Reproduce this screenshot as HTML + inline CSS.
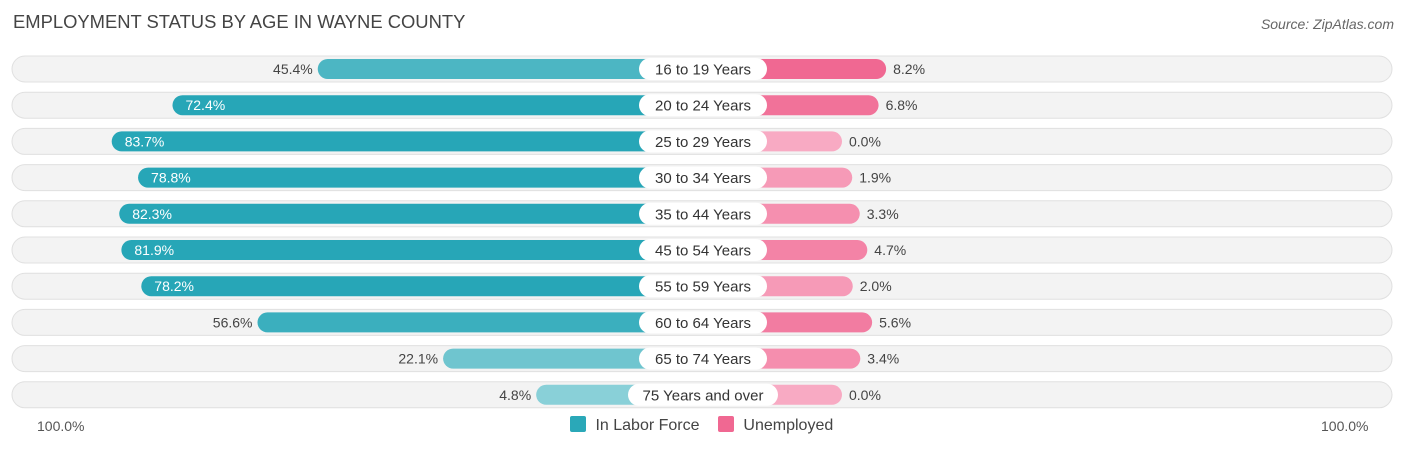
<!DOCTYPE html>
<html><head><meta charset="utf-8"><style>
body{margin:0;background:#fff;font-family:"Liberation Sans",sans-serif;}
#wrap{position:relative;width:1406px;height:451px;overflow:hidden;}
.t{position:absolute;white-space:nowrap;}
</style></head><body>
<div id="wrap">
<div class="t" style="left:13px;top:11px;font-size:18.4px;color:#444;">EMPLOYMENT STATUS BY AGE IN WAYNE COUNTY</div>
<div class="t" style="right:12px;top:16px;font-size:14px;color:#666;font-style:italic;">Source: ZipAtlas.com</div>
<svg id="svg" width="1406" height="451" style="position:absolute;left:0;top:0"></svg>
<div class="t" style="left:37px;top:418px;font-size:14px;color:#555;">100.0%</div>
<div class="t" style="left:1321px;top:418px;font-size:14px;color:#555;">100.0%</div>
<div style="position:absolute;left:570px;top:416px;font-size:16px;color:#444;">
<span style="display:inline-block;width:16px;height:16px;background:#2aa8b8;border-radius:2px;vertical-align:-2px"></span>
<span style="margin:0 14px 0 5px">In Labor Force</span>
<span style="display:inline-block;width:16px;height:16px;background:#f06892;border-radius:2px;vertical-align:-2px"></span>
<span style="margin-left:5px">Unemployed</span>
</div>
</div>
<script>
const categories=["16 to 19 Years","20 to 24 Years","25 to 29 Years","30 to 34 Years","35 to 44 Years","45 to 54 Years","55 to 59 Years","60 to 64 Years","65 to 74 Years","75 Years and over"];
const laborForce=[45.4,72.4,83.7,78.8,82.3,81.9,78.2,56.6,22.1,4.8];
const unemployed=[8.2,6.8,0.0,1.9,3.3,4.7,2.0,5.6,3.4,0.0];
const NS="http://www.w3.org/2000/svg";
const svg=document.getElementById('svg');
const CX=702,LO=562,RO=842,SC=5.38,Y0=69,STEP=36.2;
function xl(v){return LO-v*SC;}
function xr(v){return RO+v*SC;}
function lerp(a,b,t){t=Math.max(0,Math.min(1,t));return a.map((c,i)=>Math.round(c+(b[i]-c)*t));}
function rgb(c){return `rgb(${c[0]},${c[1]},${c[2]})`;}
function mk(tag,attrs){const e=document.createElementNS(NS,tag);for(const k in attrs)e.setAttribute(k,attrs[k]);svg.appendChild(e);return e;}
categories.forEach((cat,i)=>{
  const y=Y0+i*STEP;
  const bg=mk('rect',{x:12,y:y-13,width:1380,height:26,rx:13,fill:'#f3f3f3',stroke:'#e0e0e0','stroke-width':1});
  
  
  const lv=laborForce[i];
  const lc=rgb(lerp([144,211,218],[39,166,183],lv/70));
  const lb=mk('rect',{x:xl(lv),y:y-10,width:CX-xl(lv),height:20,rx:10,fill:lc});
  
  
  const uv=unemployed[i];
  const uc=rgb(lerp([248,170,195],[240,104,146],uv/8));
  const ub=mk('rect',{x:CX,y:y-10,width:xr(uv)-CX,height:20,rx:10,fill:uc});
  
  
  const pw=cat.length>14?150:128;
  const pill=mk('rect',{x:CX+1-pw/2,y:y-11,width:pw,height:22,rx:11,fill:'#fff'});
  
  
  const ct=mk('text',{x:CX+1,y:y+5.5,'text-anchor':'middle','font-size':15,fill:'#333','font-family':'Liberation Sans, sans-serif'});
  ct.textContent=cat;
  
  
  const inside=lv>60;
  const lt=mk('text',{x:inside?xl(lv)+13:xl(lv)-5,y:y+5,'text-anchor':inside?'start':'end','font-size':14,fill:inside?'#fff':'#444','font-family':'Liberation Sans, sans-serif'});
  lt.textContent=lv.toFixed(1)+'%';
  
  
  const ut=mk('text',{x:xr(uv)+7,y:y+5,'font-size':14,fill:'#444','font-family':'Liberation Sans, sans-serif'});
  ut.textContent=uv.toFixed(1)+'%';
  
  
});
</script>
</body></html>
